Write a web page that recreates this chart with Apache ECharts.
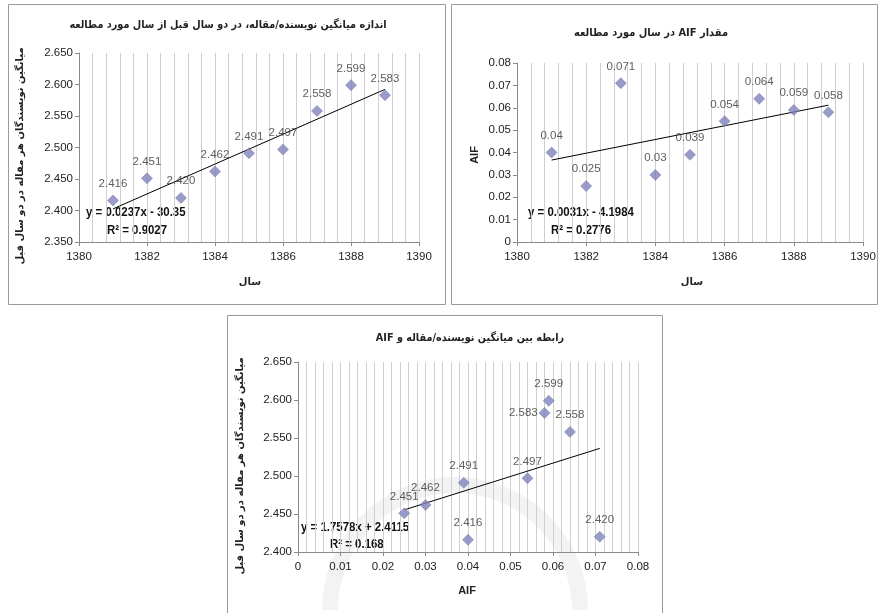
<!DOCTYPE html>
<html><head><meta charset="utf-8">
<script src="https://cdn.jsdelivr.net/npm/echarts@6/dist/echarts.min.js"></script>
<style>html,body{margin:0;padding:0;background:#fff}#c{width:882px;height:613px}</style>
</head><body><div id="c"></div>
<script>
// ---- data ----
const years = [1381, 1382, 1383, 1384, 1385, 1386, 1387, 1388, 1389];
const avgAuthors = [2.416, 2.451, 2.420, 2.462, 2.491, 2.497, 2.558, 2.599, 2.583];
const aifValues = [0.04, 0.025, 0.071, 0.03, 0.039, 0.054, 0.064, 0.059, 0.058];

const titles = [
  'اندازه میانگین نویسنده/مقاله، در دو سال قبل از سال مورد مطالعه',
  'مقدار AIF در سال مورد مطالعه',
  'رابطه بین میانگین نویسنده/مقاله و AIF'
];
const yNames = ['میانگین نویسندگان هر مقاله در دو سال قبل', 'AIF', 'میانگین نویسندگان هر مقاله در دو سال قبل'];
const xNames = ['سال', 'سال', 'AIF'];
const equations = ['y = 0.0237x - 30.35', 'y = 0.0031x - 4.1984', 'y = 1.7578x + 2.4115'];
const rSquared = ['R² = 0.9027', 'R² = 0.2776', 'R² = 0.168'];

// ---- helpers ----
const RLE = '\u202B', PDF = '\u202C';
const rtl = s => RLE + s + PDF;
function fit(xs, ys) {
  const n = xs.length;
  const mx = xs.reduce((a, b) => a + b, 0) / n, my = ys.reduce((a, b) => a + b, 0) / n;
  let sxy = 0, sxx = 0;
  for (let i = 0; i < n; i++) { sxy += (xs[i] - mx) * (ys[i] - my); sxx += (xs[i] - mx) ** 2; }
  const b = sxy / sxx, a = my - b * mx;
  const x0 = Math.min(...xs), x1 = Math.max(...xs);
  return [[x0, a + b * x0], [x1, a + b * x1]];
}

const gridC = '#cfcfcf', axisC = '#8a8a8a', txtC = '#222';
const numFont = "'Liberation Sans', Arial, sans-serif";
const arFont = "'DejaVu Sans', sans-serif";
const markerC = '#7F82BC';

function xAx(grid, min, max, interval, fmt) {
  return {
    gridIndex: grid, type: 'value', min, max, interval,
    axisLine: { onZero: false, lineStyle: { color: axisC } },
    axisTick: { show: true, length: 4, lineStyle: { color: axisC } },
    minorTick: { show: false, splitNumber: 5 },
    splitLine: { show: true, lineStyle: { color: gridC } },
    minorSplitLine: { show: true, lineStyle: { color: gridC } },
    axisLabel: { margin: 9, fontSize: 11.5, color: txtC, fontFamily: numFont, formatter: fmt }
  };
}
function yAx(grid, min, max, interval, fmt) {
  return {
    gridIndex: grid, type: 'value', min, max, interval,
    axisLine: { show: true, onZero: false, lineStyle: { color: axisC } },
    axisTick: { show: true, length: 4, lineStyle: { color: axisC } },
    splitLine: { show: false },
    axisLabel: { margin: 6, fontSize: 11.5, color: txtC, fontFamily: numFont, formatter: fmt }
  };
}
const fmt2 = v => String(Math.round(v * 100) / 100);
const fmt3 = v => v.toFixed(3);
const fmtYear = v => String(Math.round(v));

const labelBase = { show: true, position: 'top', distance: 5, fontSize: 11.5, color: '#333', fontFamily: numFont };

function scatter(xi, data, fmt) {
  return {
    type: 'scatter', xAxisIndex: xi, yAxisIndex: xi, data,
    symbol: 'diamond', symbolSize: 11,
    itemStyle: { color: markerC, borderColor: '#6f72a8', borderWidth: 0.6 },
    label: Object.assign({}, labelBase, { formatter: p => fmt(p.value[1]) }),
    z: 3
  };
}
function trend(xi, pts) {
  return {
    type: 'line', xAxisIndex: xi, yAxisIndex: xi, data: pts, symbol: 'none', silent: true,
    lineStyle: { color: '#000', width: 1 }, z: 2
  };
}

const d0 = years.map((y, i) => [y, avgAuthors[i]]);
const d1 = years.map((y, i) => [y, aifValues[i]]);
const d2 = aifValues.map((a, i) => {
  const item = { value: [a, avgAuthors[i]] };
  if (avgAuthors[i] === 2.583) item.label = { position: 'left', distance: 1 };
  return item;
});

function txt(x, y, s, font, opts) {
  return Object.assign({
    type: 'text', x, y, silent: true,
    style: { text: s, font, fill: txtC, align: 'center', verticalAlign: 'middle' }
  }, opts || {});
}
function txtL(x, y, s, font) {
  return { type: 'text', x, y, scaleX: 0.88, silent: true, style: { text: s, font, fill: '#111', align: 'left', verticalAlign: 'middle' } };
}
const panelStroke = '#9a9a9a';
const graphic = [
  // faint watermark in the bottom panel
  { type: 'arc', z: -10, silent: true, shape: { cx: 455, cy: 610, r: 125, startAngle: Math.PI, endAngle: 2 * Math.PI }, style: { stroke: '#d8d8d8', fill: 'none', lineWidth: 16, opacity: 0.3 } },
  { type: 'rect', shape: { x: 8.5, y: 4.5, width: 437, height: 300 }, style: { fill: 'none', stroke: panelStroke, lineWidth: 1 }, silent: true },
  { type: 'rect', shape: { x: 451.5, y: 4.5, width: 426, height: 300 }, style: { fill: 'none', stroke: panelStroke, lineWidth: 1 }, silent: true },
  { type: 'rect', shape: { x: 227.5, y: 315.5, width: 435, height: 310 }, style: { fill: 'none', stroke: panelStroke, lineWidth: 1 }, silent: true },
  txt(228, 25, rtl(titles[0]), 'bold 11px ' + arFont, { scaleX: 0.88 }),
  txt(651, 33, rtl(titles[1]), 'bold 11px ' + arFont, { scaleX: 0.9 }),
  txt(470, 338, rtl(titles[2]), 'bold 11px ' + arFont, { scaleX: 0.88 }),
  txt(20, 156, rtl(yNames[0]), 'bold 10px ' + arFont, { rotation: Math.PI / 2 }),
  txt(475, 155, yNames[1], 'bold 11px ' + numFont, { rotation: Math.PI / 2 }),
  txt(240, 466, rtl(yNames[2]), 'bold 10px ' + arFont, { rotation: Math.PI / 2 }),
  txt(250, 282, rtl(xNames[0]), 'bold 10px ' + arFont),
  txt(692, 282, rtl(xNames[1]), 'bold 10px ' + arFont),
  txt(467, 591, xNames[2], 'bold 11px ' + numFont),
  txtL(86, 212, equations[0], 'bold 13px ' + numFont),
  txtL(107, 230, rSquared[0], 'bold 13px ' + numFont),
  txtL(528, 212, equations[1], 'bold 13px ' + numFont),
  txtL(551, 230, rSquared[1], 'bold 13px ' + numFont),
  txtL(301, 527, equations[2], 'bold 13px ' + numFont),
  txtL(330, 544, rSquared[2], 'bold 13px ' + numFont)
];

const option = {
  animation: false,
  backgroundColor: '#fff',
  grid: [
    { left: 79, top: 53, width: 340, height: 189 },
    { left: 517, top: 63, width: 346, height: 179 },
    { left: 298, top: 362, width: 340, height: 190 }
  ],
  xAxis: [
    xAx(0, 1380, 1390, 2, fmtYear),
    xAx(1, 1380, 1390, 2, fmtYear),
    xAx(2, 0, 0.08, 0.01, fmt2)
  ],
  yAxis: [
    yAx(0, 2.35, 2.65, 0.05, fmt3),
    yAx(1, 0, 0.08, 0.01, fmt2),
    yAx(2, 2.4, 2.65, 0.05, fmt3)
  ],
  series: [
    scatter(0, d0, fmt3),
    trend(0, fit(years, avgAuthors)),
    scatter(1, d1, v => String(v)),
    trend(1, fit(years, aifValues)),
    scatter(2, d2, fmt3),
    trend(2, fit(aifValues, avgAuthors))
  ],
  graphic
};
const chart = echarts.init(document.getElementById('c'));
chart.setOption(option);
</script>
</body></html>
